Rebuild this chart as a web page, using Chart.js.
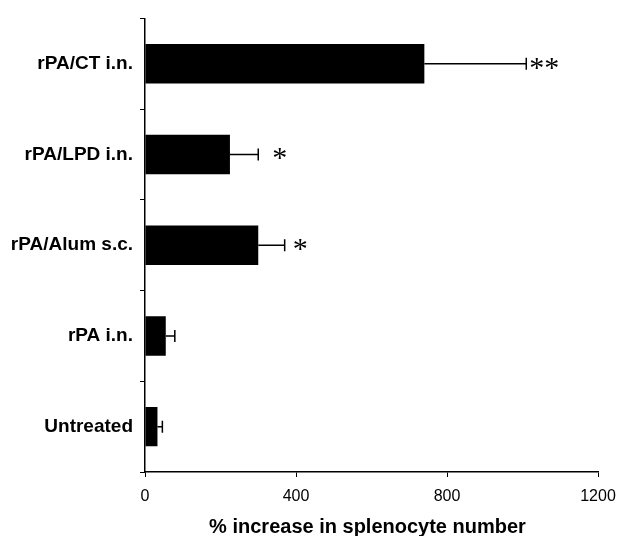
<!DOCTYPE html>
<html>
<head>
<meta charset="utf-8">
<script src="https://cdn.jsdelivr.net/npm/chart.js@4"></script>
<style>
  html, body { margin: 0; padding: 0; background: #fff; }
  #wrap { width: 620px; height: 536px; }
</style>
</head>
<body>
<div id="wrap"><canvas id="chart" width="620" height="536"></canvas></div>
<script>
const groups = ['rPA/CT i.n.', 'rPA/LPD i.n.', 'rPA/Alum s.c.', 'rPA i.n.', 'Untreated'];
const increase = [740, 225, 300, 55, 33];
const errors = [270, 75, 70, 24, 13];
const significance = ['**', '*', '*', '', ''];
const xTicks = [0, 400, 800, 1200];

// gap between error cap and the star, px
const starGap = [3, 14, 8, 0, 0];

const errorBars = {
    id: 'errorBars',
    afterDatasetsDraw(chart) {
        const ctx = chart.ctx;
        const x = chart.scales.x;
        const y = chart.scales.y;
        ctx.save();
        ctx.strokeStyle = '#000';
        ctx.lineWidth = 1.5;
        increase.forEach((v, i) => {
            const cy = y.getPixelForValue(i);
            const x0 = x.getPixelForValue(v);
            const x1 = x.getPixelForValue(v + errors[i]);
            ctx.beginPath();
            ctx.moveTo(x0, cy);
            ctx.lineTo(x1, cy);
            ctx.moveTo(x1, cy - 6);
            ctx.lineTo(x1, cy + 6);
            ctx.stroke();
            if (significance[i]) {
                ctx.fillStyle = '#000';
                ctx.font = '30px "Liberation Serif"';
                ctx.textAlign = 'left';
                ctx.textBaseline = 'middle';
                ctx.fillText(significance[i], x1 + starGap[i], cy + 5);
            }
        });
        ctx.fillStyle = '#000';
        ctx.font = 'bold 20px "Liberation Sans"';
        ctx.textAlign = 'center';
        ctx.textBaseline = 'middle';
        ctx.fillText('% increase in splenocyte number', (x.left + x.right) / 2 - 4, 527);
        ctx.restore();
    }
};

new Chart(document.getElementById('chart'), {
    type: 'bar',
    data: {
        labels: groups,
        datasets: [{
            data: increase,
            backgroundColor: '#000',
            borderWidth: 0,
            categoryPercentage: 1,
            barPercentage: 0.435,
        }],
    },
    options: {
        indexAxis: 'y',
        responsive: false,
        animation: false,
        layout: { padding: { top: 12, right: 22, left: 0, bottom: 0 } },
        plugins: { legend: { display: false }, tooltip: { enabled: false } },
        scales: {
            x: {
                min: 0,
                max: 1200,
                afterBuildTicks(scale) {
                    scale.ticks = xTicks.map((v) => ({ value: v }));
                },
                afterFit(scale) {
                    scale.height = 64;
                    scale.paddingLeft = 0;
                    scale.paddingRight = 0;
                },
                border: { color: '#000', width: 1.5 },
                grid: { drawOnChartArea: false, drawTicks: true, tickLength: 5, color: '#000', lineWidth: 1 },
                ticks: {
                    color: '#000',
                    padding: 10,
                    maxRotation: 0,
                    callback: (v) => String(v),
                    font: { family: 'Liberation Sans', size: 16 },
                },
            },
            y: {
                afterFit(scale) { scale.width = 145; },
                border: { color: '#000', width: 1.5 },
                grid: { drawOnChartArea: false, drawTicks: true, tickLength: 5, color: '#000', lineWidth: 1, offset: true },
                ticks: {
                    color: '#000',
                    padding: 7,
                    font: { family: 'Liberation Sans', size: 19, weight: 'bold' },
                },
            },
        },
    },
    plugins: [errorBars],
});
</script>
</body>
</html>
